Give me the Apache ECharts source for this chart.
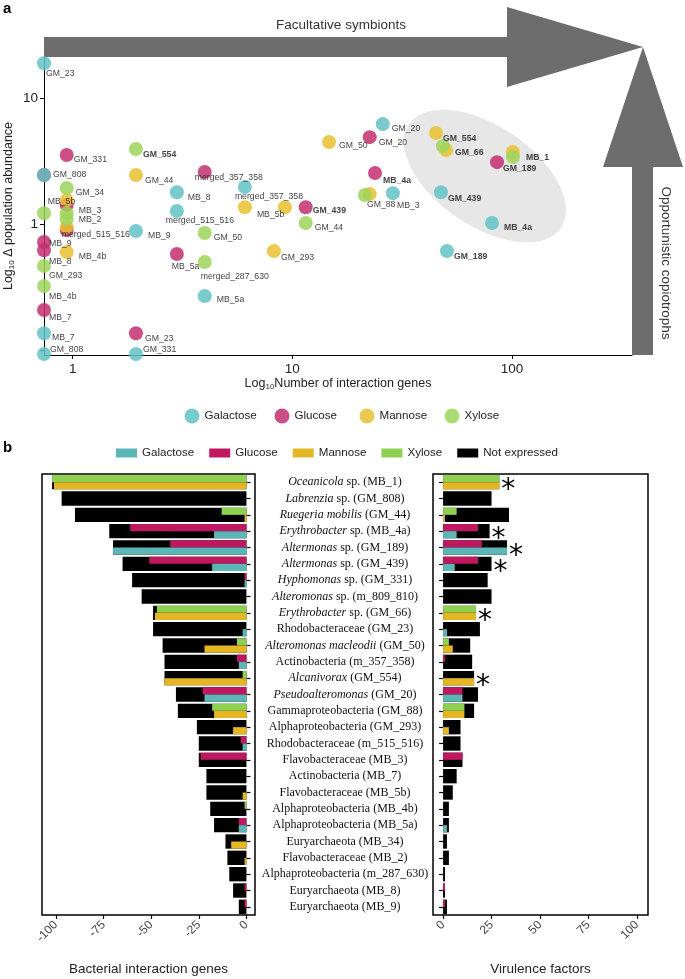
<!DOCTYPE html>
<html><head><meta charset="utf-8">
<script src="https://cdn.jsdelivr.net/npm/echarts@6.0.0/dist/echarts.min.js"></script>
<style>html,body{margin:0;padding:0;background:#fff}#c{width:685px;height:979px}</style>
</head><body><div id="c"></div>
<script>
// ================= Panel a data =================
const sugarNames = ['Galactose', 'Glucose', 'Mannose', 'Xylose'];
const highlighted = ['MB_1', 'MB_4a', 'GM_189', 'GM_439', 'GM_66', 'GM_554'];

const galactoseGenes = [0.74, 0.74, 2.98, 6.08, 2.98, 1.94, 3.99, 0.74, 0.74, 1.94, 25.8, 28.7, 47.5, 81.1, 50.6];
const galactoseAbund = [18.9, 2.45, 1.79, 1.97, 1.27, 0.88, 0.268, 0.136, 0.093, 0.093, 6.22, 1.76, 1.79, 1.02, 0.61];
const galactoseLabels = ['GM_23', 'GM_808', 'MB_8', 'merged_357_358', 'merged_515_516', 'MB_9', 'MB_5a', 'MB_7', 'GM_808', 'GM_331', 'GM_20', 'MB_3', 'GM_439', 'MB_4a', 'GM_189'];

const glucoseGenes = [0.939, 0.74, 3.99, 0.939, 0.939, 0.74, 0.74, 0.74, 2.98, 11.5, 1.94, 22.5, 23.8, 85.5];
const glucoseAbund = [3.53, 2.45, 2.59, 1.42, 0.896, 0.72, 0.62, 0.208, 0.578, 1.36, 0.136, 4.9, 2.54, 3.1];
const glucoseLabels = ['GM_331', '', 'merged_357_358', '', '', 'MB_9', 'MB_8', 'MB_7', 'MB_5a', 'GM_439', 'GM_23', 'GM_20', 'MB_4a', 'GM_189'];

const mannoseGenes = [1.94, 14.7, 0.939, 0.939, 0.939, 6.08, 9.25, 8.24, 45.1, 50.1, 101, 22.5];
const mannoseAbund = [2.45, 4.48, 1.55, 0.947, 0.6, 1.36, 1.36, 0.61, 5.28, 3.87, 3.73, 1.73];
const mannoseLabels = ['GM_44', 'GM_50', 'MB_5b', 'merged_515_516', 'MB_4b', 'MB_5b', '', 'GM_293', 'GM_554', 'GM_66', '', ''];

const xyloseGenes = [1.94, 0.939, 0.939, 0.939, 0.74, 11.5, 3.99, 3.99, 0.74, 0.74, 48.5, 101, 21.4];
const xyloseAbund = [3.94, 1.93, 1.22, 1.096, 1.22, 1.02, 0.85, 0.50, 0.464, 0.322, 4.16, 3.4, 1.7];
const xyloseLabels = ['GM_554', 'GM_34', 'MB_3', 'MB_2', '', 'GM_44', 'GM_50', 'merged_287_630', 'GM_293', 'MB_4b', '', 'MB_1', 'GM_88'];

// label placement (pixel shift of each text label from its point) - layout only
const galactoseLabelShift = [[2,10],[9,0],[11,5],[-10,10],[-11,10],[12,5],[12,4],[8,4],[6,-4],[7,-4],[9,5],[4,12],[7,6],[12,5],[7,5]];
const glucoseLabelShift = [[7,5],[0,0],[-10,6],[0,0],[0,0],[5,2],[5,11],[5,8],[-5,13],[7,3],[9,5],[9,5],[8,8],[6,6]];
const mannoseLabelShift = [[9,6],[10,4],[-19,2],[-5,8],[12,5],[12,7],[0,0],[7,6],[7,6],[9,3],[0,0],[0,0]];
const xyloseLabelShift = [[7,6],[9,5],[12,-3],[12,1],[0,0],[9,5],[9,5],[-4,15],[5,10],[5,11],[0,0],[13,0],[2,10]];

// ================= Panel b data =================
const taxaItalic = ['Oceanicola', 'Labrenzia', 'Ruegeria mobilis', 'Erythrobacter', 'Altermonas', 'Altermonas', 'Hyphomonas', 'Alteromonas', 'Erythrobacter', '', 'Alteromonas macleodii', '', 'Alcanivorax', 'Pseudoalteromonas', '', '', '', '', '', '', '', '', '', '', '', '', ''];
const taxaPlain = [' sp. (MB_1)', ' sp. (GM_808)', ' (GM_44)', ' sp. (MB_4a)', ' sp. (GM_189)', ' sp. (GM_439)', ' sp. (GM_331)', ' sp. (m_809_810)', ' sp. (GM_66)', 'Rhodobacteraceae (GM_23)', ' (GM_50)', 'Actinobacteria (m_357_358)', ' (GM_554)', ' (GM_20)', 'Gammaproteobacteria (GM_88)', 'Alphaproteobacteria (GM_293)', 'Rhodobacteraceae (m_515_516)', 'Flavobacteraceae (MB_3)', 'Actinobacteria (MB_7)', 'Flavobacteraceae (MB_5b)', 'Alphaproteobacteria (MB_4b)', 'Alphaproteobacteria (MB_5a)', 'Euryarchaeota (MB_34)', 'Flavobacteraceae (MB_2)', 'Alphaproteobacteria (m_287_630)', 'Euryarchaeota (MB_8)', 'Euryarchaeota (MB_9)'];

const interactionTotal     = [102, 97, 90, 72, 70, 65, 60, 55, 49, 49, 44, 43, 43, 37, 36, 26, 25, 25, 21, 21, 19, 17, 11, 10, 9, 7, 4];
const interactionGalactose = [0, 0, 0, 17, 70, 18, 1, 0, 0, 2, 0, 4, 0, 22, 0, 0, 2, 0, 0, 0, 0, 4, 0, 0, 0, 0, 0];
const interactionGlucose   = [0, 0, 0, 61, 40, 51, 1, 0, 0, 0, 0, 5, 0, 23, 0, 0, 3, 24, 0, 0, 0, 4, 0, 0, 0, 1, 1];
const interactionMannose   = [101, 0, 1, 0, 0, 0, 0, 0, 48, 0, 22, 0, 43, 0, 17, 7, 0, 0, 0, 2, 0, 0, 8, 1, 0, 0, 0];
const interactionXylose    = [102, 0, 13, 0, 0, 0, 0, 0, 47, 0, 5, 0, 2, 0, 18, 0, 0, 0, 0, 0, 1, 0, 0, 0, 0, 0, 0];

const virulenceTotal     = [29, 25, 34, 24, 33, 25, 23, 25, 17, 19, 14, 15, 16, 18, 16, 9, 9, 10, 7, 5, 3, 3, 2, 3, 1, 1, 2];
const virulenceGalactose = [0, 0, 0, 7, 33, 6, 0, 0, 0, 2, 0, 0, 0, 10, 0, 0, 0, 0, 0, 0, 0, 2, 0, 0, 0, 0, 0];
const virulenceGlucose   = [0, 0, 0, 18, 20, 18, 0, 0, 0, 0, 0, 1, 0, 10, 0, 0, 0, 10, 0, 0, 0, 0, 0, 0, 0, 1, 1];
const virulenceMannose   = [29, 0, 1, 0, 0, 0, 0, 0, 17, 0, 5, 0, 16, 0, 11, 3, 0, 0, 0, 0, 0, 0, 0, 0, 0, 0, 0];
const virulenceXylose    = [29, 0, 7, 0, 0, 0, 0, 0, 17, 0, 3, 0, 0, 0, 11, 0, 0, 0, 0, 0, 0, 0, 0, 0, 0, 0, 0];
const virulenceFlagged   = ['MB_1', 'MB_4a', 'GM_189', 'GM_439', 'GM_66', 'GM_554'];

const xTicksGenes = [-100, -75, -50, -25, 0];
const xTicksVirulence = [0, 25, 50, 75, 100];

// ================= build =================
const taxa = taxaItalic.map((t, i) => t + taxaPlain[i]);
const SANS = '"Liberation Sans", Arial, sans-serif';
const SERIF = '"Liberation Serif", "Times New Roman", serif';
const colA = {Galactose: '#62c2c4', Glucose: '#c2306f', Mannose: '#e9c030', Xylose: '#9ed55c'};
const colB = {Galactose: '#5cb6b6', Glucose: '#c01860', Mannose: '#e4b624', Xylose: '#8ed150'};

function scatter(name, genes, abund, labels, shifts) {
  return {
    type: 'scatter', name, xAxisIndex: 0, yAxisIndex: 0, clip: false,
    symbolSize: 14, itemStyle: {color: colA[name], opacity: 0.85},
    emphasis: {disabled: true},
    data: genes.map((g, i) => ({
      value: [g, abund[i]],
      label: {
        show: !!labels[i], formatter: labels[i] || '',
        position: [shifts[i][0] + 7, shifts[i][1] + 7], align: 'left', verticalAlign: 'middle',
        fontSize: 8.7, fontFamily: SANS, color: '#222',
        fontWeight: highlighted.includes(labels[i]) ? 'bold' : 'normal'
      }
    }))
  };
}

function isPow10(v) { const l = Math.log10(v); return Math.abs(l - Math.round(l)) < 1e-6; }

const series = [
  scatter('Glucose', glucoseGenes, glucoseAbund, glucoseLabels, glucoseLabelShift),
  scatter('Galactose', galactoseGenes, galactoseAbund, galactoseLabels, galactoseLabelShift),
  scatter('Mannose', mannoseGenes, mannoseAbund, mannoseLabels, mannoseLabelShift),
  scatter('Xylose', xyloseGenes, xyloseAbund, xyloseLabels, xyloseLabelShift)
];

function barPanel(xi, yBlack, yCol, sign, total, gal, glc, man, xyl, flagged) {
  const f = v => sign * v;
  series.push({
    type: 'bar', name: 'Not expressed', xAxisIndex: xi, yAxisIndex: yBlack, barWidth: '88%',
    itemStyle: {color: '#000'}, emphasis: {disabled: true},
    label: {show: false, position: 'right', distance: 2, formatter: '*', fontSize: 28, fontFamily: '"DejaVu Sans", sans-serif', color: '#000', offset: [0, 9]},
    data: total.map((v, i) => ({
      value: f(v),
      label: {show: !!(flagged && flagged.some(c => taxa[i].includes('(' + c + ')')))}
    }))
  });
  const parts = [['Glucose', glc, 'up'], ['Xylose', xyl, 'up'], ['Galactose', gal, 'down'], ['Mannose', man, 'down']];
  parts.forEach(([n, arr, st]) => series.push({
    type: 'bar', name: n + ' ', xAxisIndex: xi, yAxisIndex: yCol, stack: st + xi,
    barWidth: '44%', barGap: '0%', itemStyle: {color: colB[n]}, emphasis: {disabled: true},
    data: arr.map(f)
  }));
}
barPanel(1, 1, 2, -1, interactionTotal, interactionGalactose, interactionGlucose, interactionMannose, interactionXylose, null);
barPanel(2, 3, 4, 1, virulenceTotal, virulenceGalactose, virulenceGlucose, virulenceMannose, virulenceXylose, virulenceFlagged);

const tickB = {show: true, length: 4, lineStyle: {color: '#000', width: 1.2}};
const legendALeft = [179.5, 269.5, 354.5, 439.5];

const option = {
  animation: false,
  textStyle: {fontFamily: SANS},
  grid: [
    {left: 44, right: 53, top: 57, height: 298, outerBoundsMode: 'none', containLabel: false},
    {left: 42, top: 474, width: 213, height: 441, show: true, borderColor: '#000', borderWidth: 1.5, outerBoundsMode: 'none', containLabel: false},
    {left: 433, top: 474, width: 215, height: 441, show: true, borderColor: '#000', borderWidth: 1.5, outerBoundsMode: 'none', containLabel: false}
  ],
  xAxis: [
    {type: 'log', gridIndex: 0, min: 0.74, max: 352, logBase: 10,
     axisLine: {show: true, onZero: false, lineStyle: {color: '#000', width: 1}},
     axisTick: {show: true, length: 4, lineStyle: {color: '#000'}},
     axisLabel: {fontSize: 13.5, color: '#222', margin: 7, showMinLabel: false, showMaxLabel: false,
                 formatter: v => (isPow10(v) && v >= 1) ? String(Math.round(v)) : ''},
     splitLine: {show: false}, minorTick: {show: false},
     name: 'Log{s|10}Number of interaction genes', nameLocation: 'middle', nameGap: 21,
     nameTextStyle: {fontSize: 12.5, color: '#222', rich: {s: {fontSize: 8, color: '#222', padding: [7, 0, 0, 0]}}}},
    {type: 'value', gridIndex: 1, min: -107.3, max: 4.5,
     axisLine: {show: false}, splitLine: {show: false},
     axisTick: Object.assign({customValues: xTicksGenes}, tickB),
     axisLabel: {customValues: xTicksGenes, rotate: 45, fontSize: 12, color: '#444', margin: 8},
     name: 'Bacterial interaction genes', nameLocation: 'middle', nameGap: 47,
     nameTextStyle: {fontSize: 13.5, color: '#222'}},
    {type: 'value', gridIndex: 2, min: -5.2, max: 105.7,
     axisLine: {show: false}, splitLine: {show: false},
     axisTick: Object.assign({customValues: xTicksVirulence}, tickB),
     axisLabel: {customValues: xTicksVirulence, rotate: 45, fontSize: 12, color: '#444', margin: 8},
     name: 'Virulence factors', nameLocation: 'middle', nameGap: 47,
     nameTextStyle: {fontSize: 13.5, color: '#222'}}
  ],
  yAxis: [
    {type: 'log', gridIndex: 0, min: 0.0913, max: 21.2, logBase: 10,
     axisLine: {show: true, onZero: false, lineStyle: {color: '#000', width: 1}},
     axisTick: {show: true, length: 4, lineStyle: {color: '#000'}},
     axisLabel: {fontSize: 13.5, color: '#222', margin: 6, showMinLabel: false, showMaxLabel: false,
                 formatter: v => (isPow10(v) && v >= 1) ? String(Math.round(v)) : ''},
     splitLine: {show: false},
     name: 'Log{s|10} Δ population abundance', nameLocation: 'middle', nameRotate: 90, nameGap: 28,
     nameMoveOverlap: false,
     nameTextStyle: {fontSize: 12.5, color: '#222', rich: {s: {fontSize: 8, color: '#222', padding: [7, 0, 0, 0]}}}},
    {type: 'category', gridIndex: 1, data: taxa, inverse: true, position: 'right',
     axisLine: {show: false}, axisTick: Object.assign({alignWithLabel: true}, tickB),
     axisLabel: {interval: 0, align: 'center', margin: 90,
       formatter: (v, i) => (taxaItalic[i] ? '{i|' + taxaItalic[i] + '}' : '') + '{n|' + taxaPlain[i] + '}',
       rich: {i: {fontStyle: 'italic', fontFamily: SERIF, fontSize: 12, color: '#111'},
              n: {fontFamily: SERIF, fontSize: 12, color: '#111'}}}},
    {type: 'category', gridIndex: 1, data: taxa, inverse: true, show: false},
    {type: 'category', gridIndex: 2, data: taxa, inverse: true, position: 'left',
     axisLine: {show: false}, axisTick: Object.assign({alignWithLabel: true}, tickB),
     axisLabel: {show: false}},
    {type: 'category', gridIndex: 2, data: taxa, inverse: true, show: false}
  ],
  legend: sugarNames.map((n, k) => ({
      data: [{name: n, icon: 'circle'}], left: legendALeft[k], top: 403.5,
      itemWidth: 15, itemHeight: 15, selectedMode: false,
      textStyle: {fontSize: 11.6, color: '#222', fontFamily: SANS}
    })).concat([
    {data: ['Galactose ', 'Glucose ', 'Mannose ', 'Xylose ', 'Not expressed'].map(n => ({name: n, icon: 'rect'})),
     left: 111, top: 442, itemWidth: 21, itemHeight: 9, itemGap: 15, selectedMode: false,
     formatter: n => n.trim(), textStyle: {fontSize: 11.6, color: '#222', fontFamily: SANS}}
  ]),
  graphic: [
    {type: 'ellipse', x: 485, y: 176, rotation: -0.6, shape: {cx: 0, cy: 0, rx: 92, ry: 50}, style: {fill: '#e7e7e7'}, z: -10, silent: true},
    {type: 'rect', shape: {x: 44, y: 37, width: 464, height: 20}, style: {fill: '#6d6d6d'}, silent: true},
    {type: 'polygon', shape: {points: [[507, 7], [643, 47], [507, 87]]}, style: {fill: '#6d6d6d'}, silent: true},
    {type: 'rect', shape: {x: 632, y: 166, width: 21, height: 189}, style: {fill: '#6d6d6d'}, silent: true},
    {type: 'polygon', shape: {points: [[603, 167], [643, 47], [683, 167]]}, style: {fill: '#6d6d6d'}, silent: true},
    {type: 'text', x: 341, y: 25, style: {text: 'Facultative symbionts', fontSize: 13.5, fontFamily: SANS, fill: '#333', align: 'center', verticalAlign: 'middle'}},
    {type: 'text', x: 666, y: 263, rotation: -Math.PI / 2, style: {text: 'Opportunistic copiotrophs', fontSize: 13.5, fontFamily: SANS, fill: '#333', align: 'center', verticalAlign: 'middle'}},
    {type: 'text', x: 3, y: 1, style: {text: 'a', fontSize: 15, fontWeight: 'bold', fontFamily: SANS, fill: '#000'}},
    {type: 'text', x: 3, y: 440, style: {text: 'b', fontSize: 15, fontWeight: 'bold', fontFamily: SANS, fill: '#000'}}
  ],
  series
};
const chart = echarts.init(document.getElementById('c'), null, {renderer: 'canvas'});
chart.setOption(option);
</script></body></html>
